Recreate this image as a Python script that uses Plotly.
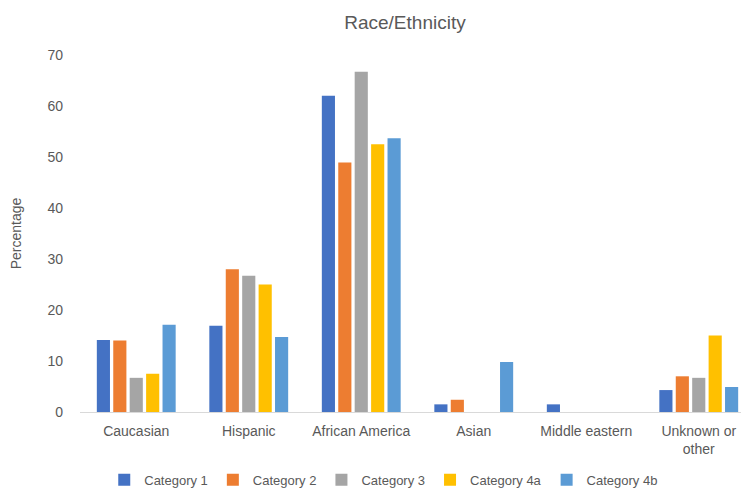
import plotly.graph_objects as go

categories = ["Caucasian", "Hispanic", "African America", "Asian", "Middle eastern", "Unknown or<br>other"]
cat1 = [14.1, 16.9, 62.0, 1.5, 1.5, 4.3]
cat2 = [14.0, 28.0, 48.9, 2.4, 0, 7.0]
cat3 = [6.7, 26.7, 66.7, 0, 0, 6.7]
cat4a = [7.5, 25.0, 52.5, 0, 0, 15.0]
cat4b = [17.1, 14.7, 53.7, 9.8, 0, 4.9]

series = [
    ("Category 1", cat1, "#4472C4"),
    ("Category 2", cat2, "#ED7D31"),
    ("Category 3", cat3, "#A5A5A5"),
    ("Category 4a", cat4a, "#FFC000"),
    ("Category 4b", cat4b, "#5B9BD5"),
]

fig = go.Figure()
for name, vals, col in series:
    fig.add_trace(go.Bar(x=categories, y=vals, name=name, marker_color=col,
                         marker_line_width=0))

grey = "#595959"
fig.update_layout(
    width=749, height=489,
    paper_bgcolor="white", plot_bgcolor="white",
    font=dict(family="Liberation Sans, Arial", size=13, color=grey),
    title=dict(text="Race/Ethnicity", x=0.53, xanchor="center", y=0.985, yanchor="top",
               font=dict(size=19, color=grey)),
    margin=dict(l=72, r=2, t=47, b=81),
    barmode="group", bargap=0.27, bargroupgap=0.2,
    legend=dict(orientation="h", x=0.45, xanchor="center", y=-0.19, yanchor="middle",
                font=dict(size=13, color=grey), itemwidth=30, traceorder="normal"),
    xaxis=dict(showline=True, linecolor="#D9D9D9", linewidth=1, ticks="", showgrid=False,
               automargin=False, ticklabelstandoff=6,
               tickfont=dict(size=14, color=grey)),
    yaxis=dict(range=[0, 70], dtick=10, showgrid=False, zeroline=False, showline=False,
               automargin=False, ticklabelstandoff=16,
               tickfont=dict(size=14, color=grey),
               title=dict(text="Percentage", font=dict(size=14, color=grey), standoff=38)),
)

fig.write_html("out.html")
